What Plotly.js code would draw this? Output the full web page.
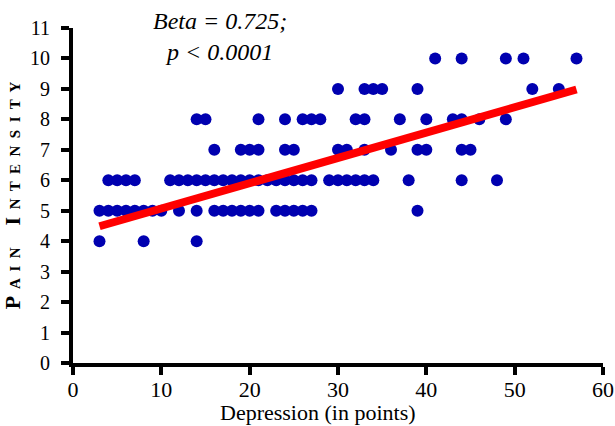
<!DOCTYPE html>
<html>
<head>
<meta charset="utf-8">
<script src="https://cdn.plot.ly/plotly-3.0.1.min.js"></script>
<style>html,body{margin:0;padding:0;background:#fff;}#chart{width:615px;height:426px;}</style>
</head>
<body>
<div id="chart"></div>
<script>
// Depression score (x) and pain intensity (y) of each respondent
const depression = [
  3, 8, 14,
  3, 4, 5, 6, 7, 8, 9, 10, 12, 14, 16, 17, 18, 19, 20, 21, 23, 24, 25, 26, 27, 39,
  4, 5, 6, 7, 11, 12, 13, 14, 15, 16, 17, 18, 19, 20, 21, 22, 23, 24, 25, 26, 27, 29, 30, 31, 32, 33, 34, 38, 44, 48,
  16, 19, 20, 21, 24, 25, 30, 31, 33, 36, 39, 40, 44, 45,
  14, 15, 21, 24, 26, 27, 28, 32, 33, 37, 40, 43, 44, 46, 49,
  30, 33, 34, 35, 39, 52, 55,
  41, 44, 49, 51, 57
];
const pain = [
  4, 4, 4,
  5, 5, 5, 5, 5, 5, 5, 5, 5, 5, 5, 5, 5, 5, 5, 5, 5, 5, 5, 5, 5, 5,
  6, 6, 6, 6, 6, 6, 6, 6, 6, 6, 6, 6, 6, 6, 6, 6, 6, 6, 6, 6, 6, 6, 6, 6, 6, 6, 6, 6, 6, 6,
  7, 7, 7, 7, 7, 7, 7, 7, 7, 7, 7, 7, 7, 7,
  8, 8, 8, 8, 8, 8, 8, 8, 8, 8, 8, 8, 8, 8, 8,
  9, 9, 9, 9, 9, 9, 9,
  10, 10, 10, 10, 10
];
// Regression line end points
const fitX = [3, 57];
const fitY = [4.49, 8.98];
const xTicks = [0, 10, 20, 30, 40, 50, 60];
const yTicks = [0, 1, 2, 3, 4, 5, 6, 7, 8, 9, 10, 11];
const statLines = ['Beta = 0.725;', 'p < 0.0001'];
const xTitle = 'Depression (in points)';

const serif = '"Liberation Serif", "Times New Roman", serif';
const sc = s => '<span style="font-size:15px">' + s + '</span>';
const yTitle = 'P' + sc('  A  I  N') + '    I' + sc('  N  T  E  N  S  I  T  Y');

const traces = [
  {
    x: depression, y: pain, type: 'scatter', mode: 'markers',
    marker: {color: '#0000b0', size: 12, line: {width: 0}},
    hoverinfo: 'x+y', showlegend: false
  },
  {
    x: fitX, y: fitY, type: 'scatter', mode: 'lines',
    line: {color: '#ff0000', width: 8},
    hoverinfo: 'skip', showlegend: false
  }
];

const layout = {
  width: 615, height: 426,
  margin: {l: 73, r: 12, t: 28, b: 63, pad: 0},
  paper_bgcolor: '#ffffff', plot_bgcolor: '#ffffff',
  font: {family: serif, color: '#000000'},
  showlegend: false,
  xaxis: {
    range: [0, 60], tickvals: xTicks, ticktext: xTicks.map(String),
    showline: true, linewidth: 4, linecolor: '#000',
    ticks: 'outside', ticklen: 8, tickwidth: 4, tickcolor: '#000',
    showgrid: false, zeroline: false,
    tickfont: {family: serif, size: 22, color: '#000'},
    ticklabelstandoff: -4,
    fixedrange: true
  },
  yaxis: {
    range: [0, 11], tickvals: yTicks, ticktext: yTicks.map(String),
    showline: true, linewidth: 4, linecolor: '#000',
    ticks: 'outside', ticklen: 8, tickwidth: 4, tickcolor: '#000',
    showgrid: false, zeroline: false,
    tickfont: {family: serif, size: 20, color: '#000'},
    ticklabelstandoff: 7,
    title: {text: yTitle, font: {family: serif, size: 22, color: '#000', weight: 'bold'}, standoff: 4},
    fixedrange: true
  },
  annotations: [
    {
      xref: 'paper', yref: 'paper', x: 0.2776, y: 1.066, xanchor: 'center', yanchor: 'top',
      text: statLines.join('<br>'), showarrow: false,
      font: {family: serif, size: 24, color: '#000', style: 'italic'}
    },
    {
      xref: 'paper', yref: 'paper', x: 0.4615, y: -0.149, xanchor: 'center', yanchor: 'middle',
      text: xTitle, showarrow: false,
      font: {family: serif, size: 22, color: '#000'}
    }
  ]
};

Plotly.newPlot('chart', traces, layout, {staticPlot: true, displayModeBar: false});
</script>
</body>
</html>
